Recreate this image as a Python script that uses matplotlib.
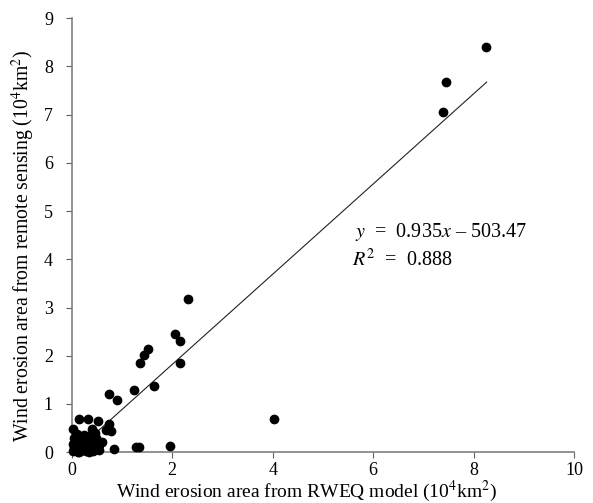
import numpy as np
import matplotlib
matplotlib.use('Agg')
import matplotlib.pyplot as plt

plt.rcParams['font.family'] = 'Liberation Serif'
plt.rcParams['mathtext.fontset'] = 'stix'

# RWEQ model (x) vs remote sensing (y), 10^4 km2
x_rweq = [8.25, 7.46, 7.40, 2.32, 2.06, 2.15, 2.16, 1.51, 1.44, 1.35,
          1.64, 1.23, 0.74, 0.90, 4.02, 1.95, 1.27, 1.33, 0.84, 0.54,
          0.14, 0.33, 0.52, 0.74, 0.69, 0.79, 0.03, 0.41, 0.46, 0.60,
          0.02, 0.05, 0.08, 0.10, 0.12, 0.15, 0.18, 0.20, 0.22, 0.25,
          0.28, 0.30, 0.32, 0.35, 0.38, 0.40, 0.42, 0.45, 0.48, 0.05,
          0.02, 0.10, 0.15, 0.25, 0.35, 0.08, 0.18, 0.28, 0.12, 0.38, 0.55]
y_rs = [8.41, 7.67, 7.05, 3.17, 2.45, 2.31, 1.84, 2.14, 2.01, 1.85,
        1.38, 1.29, 1.21, 1.09, 0.69, 0.13, 0.10, 0.10, 0.06, 0.04,
        0.68, 0.68, 0.65, 0.58, 0.46, 0.44, 0.48, 0.48, 0.39, 0.21,
        0.02, 0.10, 0.05, 0.20, 0.00, 0.12, 0.28, 0.05, 0.18, 0.10,
        0.02, 0.22, 0.32, 0.08, 0.15, 0.25, 0.03, 0.12, 0.30, 0.30,
        0.18, 0.38, 0.00, 0.35, 0.00, 0.14, 0.08, 0.15, 0.25, 0.36, 0.15]

slope = 0.935
intercept = -0.050347  # -503.47 km2
x_fit = np.array([0.40, 8.26])

fig = plt.figure(figsize=(5.93, 5.03), dpi=100)
ax = fig.add_axes([0.121, 0.101, 0.847, 0.863])

ax.plot(x_rweq, y_rs, 'o', color='black', ms=6, clip_on=False, zorder=3)
ax.plot(x_fit, slope*x_fit + intercept, '-', color='#222222', lw=0.8)

ax.text(5.64, 4.56, '$y$  =  0.935$x$ \u2013 503.47', fontsize=14.5, va='center')
ax.text(5.58, 3.98, '$R^2$  =  0.888', fontsize=14.5, va='center')

ax.set_xlim(0, 10)
ax.set_ylim(0, 9)
ax.set_xticks([0, 2, 4, 6, 8, 10])
ax.set_yticks(range(10))
ax.spines['top'].set_visible(False)
ax.spines['right'].set_visible(False)
for s in ['left', 'bottom']:
    ax.spines[s].set_color('#808080')
    ax.spines[s].set_linewidth(1.2)
ax.tick_params(direction='out', length=4.5, color='#606060', labelsize=13)
ax.tick_params(axis='y', pad=9)
ax.tick_params(axis='x', pad=2.5)

ax.set_xlabel('Wind erosion area from RWEQ model (10$^4$km$^2$)', fontsize=14)
ax.set_ylabel('Wind erosion area from remote sensing (10$^4$km$^2$)', fontsize=14.2)
ax.xaxis.set_label_coords(0.467, -0.062)
ax.yaxis.set_label_coords(-0.07, 0.475)

fig.savefig('out.png', dpi=100)
